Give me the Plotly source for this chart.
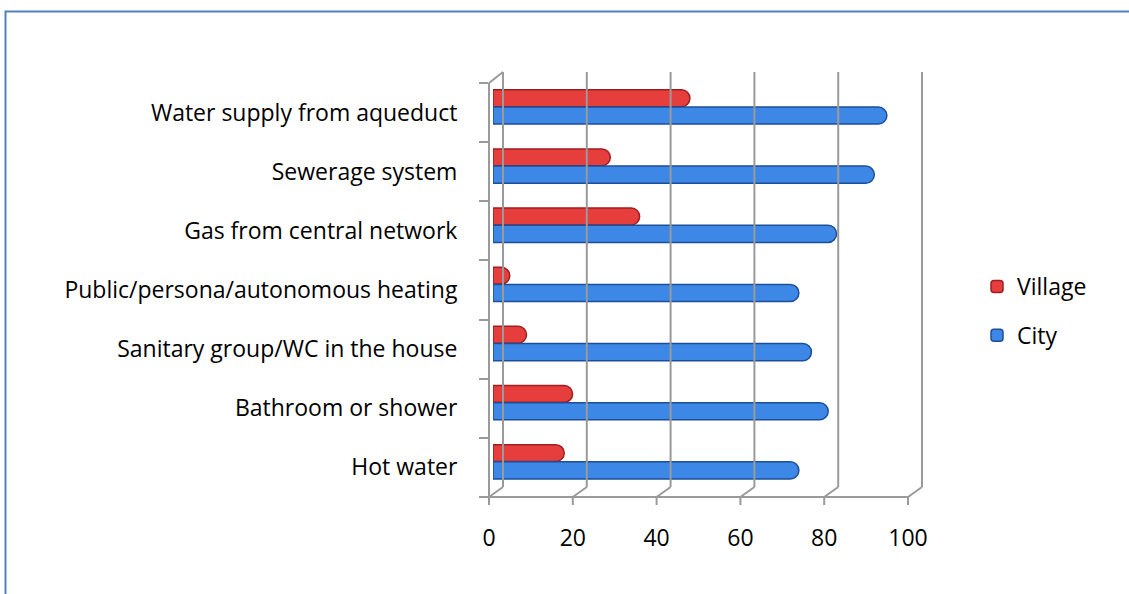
import plotly.graph_objects as go

# Share of dwellings with each facility (%), listed bottom-up
categories = [
    "Hot water",
    "Bathroom or shower",
    "Sanitary group/WC in the house",
    "Public/persona/autonomous heating",
    "Gas from central network",
    "Sewerage system",
    "Water supply from aqueduct",
]
village = [17, 19, 8, 4, 35, 28, 47]
city = [73, 80, 76, 73, 82, 91, 94]
x_ticks = [0, 20, 40, 60, 80, 100]

W, H = 1129, 594
FONT = "'Open Sans', sans-serif"
FS = 23
GRID = "#9A9A9A"

# pixel layout of the pseudo-3D box
FX0, FX100 = 489, 908          # front floor edge: value 0 and 100
DX, DY = 14, 10                 # depth offset of the back wall
FY_TOP, FY_BOT = 83, 497        # front category band (top / bottom)
BY_TOP = 72                     # back wall top
BAR_X0 = 493                    # bar origin (slightly behind the front edge)
PPU = (FX100 - FX0) / 100.0     # pixels per unit


def px(x):
    return x / W


def py(y):
    return 1 - y / H


# (name, values, offset, width, fill colour, edge colour)
series = [
    ("Village", village, 0.10, 0.285, "#E63D3D", "#9E1F1F"),
    ("City", city, -0.195, 0.29, "#3D87E6", "#1D4F98"),
]

fig = go.Figure()
for name, vals, off, wid, col, edge in series:
    fig.add_trace(go.Bar(
        y=categories, x=vals, name=name, orientation="h",
        offset=off, width=wid, legendgroup=name,
        marker=dict(color=col, line=dict(color=edge, width=1.5),
                    cornerradius="50%"),
    ))

shapes = []
for v in x_ticks:
    fx = FX0 + v * PPU
    bx = fx + DX
    # back wall gridline
    shapes.append(dict(type="line", xref="paper", yref="paper",
                       x0=px(bx), x1=px(bx), y0=py(BY_TOP), y1=py(FY_BOT - DY),
                       line=dict(color=GRID, width=2)))
    # floor edge from back to front
    shapes.append(dict(type="line", xref="paper", yref="paper",
                       x0=px(bx), x1=px(fx), y0=py(FY_BOT - DY), y1=py(FY_BOT),
                       line=dict(color=GRID, width=2)))
    # front tick mark
    shapes.append(dict(type="line", xref="paper", yref="paper",
                       x0=px(fx), x1=px(fx), y0=py(FY_BOT), y1=py(FY_BOT + 8),
                       line=dict(color=GRID, width=2)))
# front floor line
shapes.append(dict(type="line", xref="paper", yref="paper",
                   x0=px(FX0), x1=px(FX100), y0=py(FY_BOT), y1=py(FY_BOT),
                   line=dict(color=GRID, width=2)))
# left wall top edge
shapes.append(dict(type="line", xref="paper", yref="paper",
                   x0=px(FX0), x1=px(FX0 + DX), y0=py(FY_TOP), y1=py(BY_TOP),
                   line=dict(color=GRID, width=2)))
# page frame
shapes.append(dict(type="rect", xref="paper", yref="paper",
                   x0=px(5.5), x1=px(W + 20), y0=py(11.5), y1=py(H + 20),
                   line=dict(color="#4F81BD", width=2), fillcolor="rgba(0,0,0,0)",
                   layer="below"))

fig.update_layout(
    width=W, height=H,
    margin=dict(l=0, r=0, t=0, b=0, autoexpand=False),
    paper_bgcolor="white", plot_bgcolor="rgba(0,0,0,0)",
    barmode="overlay",
    font=dict(family=FONT, size=FS, color="#000000"),
    xaxis=dict(domain=[px(BAR_X0), px(BAR_X0 + 100 * PPU)], range=[0, 100],
               anchor="free", position=py(FY_BOT), automargin=False,
               tickvals=x_ticks, ticks="", showline=False, showgrid=False,
               zeroline=False, fixedrange=True,
               tickfont=dict(size=FS), ticklabelstandoff=25,
               ticklabelshift=-(BAR_X0 - FX0)),
    yaxis=dict(domain=[py(FY_BOT), py(FY_TOP)], type="category",
               categoryorder="array", categoryarray=categories,
               range=[-0.5, 6.5], anchor="free", position=px(FX0),
               automargin=False,
               showline=True, linecolor=GRID, linewidth=2,
               ticks="outside", tickson="boundaries", ticklen=9, tickwidth=2,
               tickcolor=GRID, showgrid=False, zeroline=False,
               tickfont=dict(size=FS), ticklabelstandoff=20,
               ticksuffix=" "),
    legend=dict(x=px(977), y=py(265), xanchor="left", yanchor="top",
                font=dict(size=FS), tracegroupgap=16, itemwidth=30,
                bgcolor="rgba(0,0,0,0)"),
    shapes=shapes,
    showlegend=True,
)

fig.write_html("out.html")
